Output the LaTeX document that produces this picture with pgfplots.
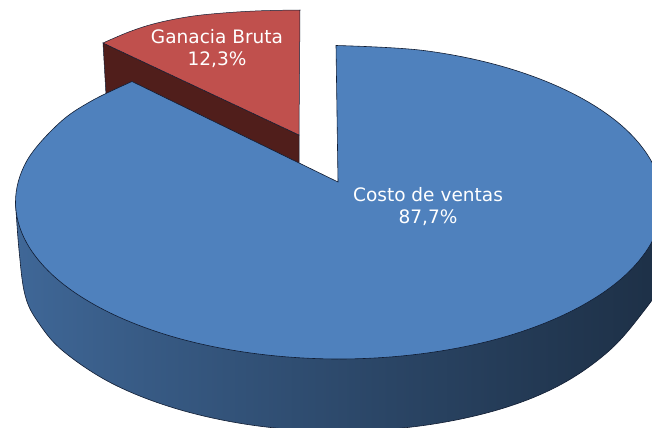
\documentclass[border=0pt]{standalone}
\usepackage{fontspec}
\setmainfont{DejaVu Sans}
\usepackage{pgfplots}
\pgfplotsset{compat=1.18}
\definecolor{blueTop}{RGB}{79,129,189}
\definecolor{redTop}{RGB}{192,80,77}
\definecolor{redSide}{RGB}{80,30,27}
\definecolor{edgeCol}{RGB}{16,28,50}
\pgfdeclarehorizontalshading{sideShade}{100bp}{
  color(0bp)=(blueTop!92!black);
  color(25bp)=(blueTop!80!black);
  color(35bp)=(blueTop!70!black);
  color(52bp)=(blueTop!55!black);
  color(68bp)=(blueTop!42!black);
  color(78bp)=(blueTop!35!black);
  color(100bp)=(blueTop!35!black)}

\begin{document}
\begin{tikzpicture}
\path[use as bounding box] (0,0) rectangle (652bp,428bp);
\begin{axis}[
    at={(0,0)},
    anchor=south west,
    scale only axis,
    width=652bp,
    height=428bp,
    xmin=0, xmax=652,
    ymin=0, ymax=428,
    y dir=reverse,
    hide axis,
    clip=true,
]

% red slice, side
\addplot[fill=redSide, draw=edgeCol, line width=0.5pt] coordinates {
(103,43) (106,95) (299,165) (299,135)
} -- cycle;
% red slice, top
\addplot[smooth, tension=0.6, fill=redTop, draw=edgeCol, line width=0.5pt] coordinates {
(103,43) (130,31.5) (157,23) (190,16.5) (223,13) (260,10.8) (300,10)
} -- (axis cs:299,135) -- cycle;

% blue slice, side wall
\addplot[smooth, tension=0.6, shading=sideShade, draw=edgeCol, line width=0.6pt] coordinates {
(15.5,202) (19,250) (25,295) (38,322) (63.6,351.5) (114.1,384.5) (180,409.8) (256.7,425.8)
(339,431.2) (421.3,425.8) (498,409.8) (560,385) (610,350) (646.2,308) (665,280)
} -- (axis cs:665,200) -- cycle;

% blue slice, top
\addplot[smooth, tension=0.6, fill=blueTop, draw=edgeCol, line width=0.6pt] coordinates {
(336,45.5) (422.7,50.4) (500.8,66) (567.7,91) (619.2,123.5) (651.5,161.4) (662.5,202)
(651.5,242.6) (619.2,280.5) (567.7,313) (500.8,338) (422.7,353.6) (339,359)
(255.3,353.6) (177.3,338) (110.3,313) (58.8,280.5) (26.5,242.6) (15.5,202)
(26.5,161.4) (58.8,123.5) (91.2,101.1) (132,81.5)
} -- (axis cs:338,182) -- cycle;

\node[text=white, align=center, font=\fontsize{18.6}{23}\selectfont, inner sep=0pt]
  at (axis cs:217,48.5) {Ganacia Bruta\\12,3\%};
\node[text=white, align=center, font=\fontsize{18.6}{23}\selectfont, inner sep=0pt]
  at (axis cs:428,206.5) {Costo de ventas\\87,7\%};
\end{axis}
\end{tikzpicture}
\end{document}
